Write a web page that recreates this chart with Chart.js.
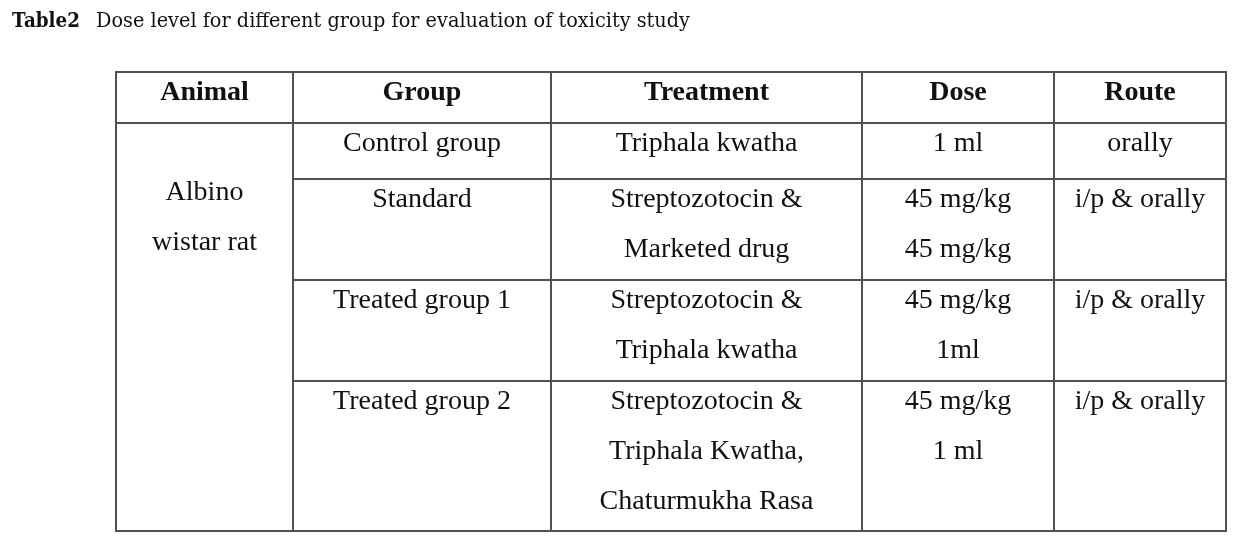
<!DOCTYPE html>
<html>
<head>
<meta charset="utf-8">
<script src="https://cdn.jsdelivr.net/npm/chart.js@4.4.1/dist/chart.umd.min.js"></script>
<style>
html,body{margin:0;padding:0;background:#fff;}
#wrap{width:1247px;height:552px;}
</style>
</head>
<body>
<div id="wrap"><canvas id="c" width="1247" height="552"></canvas></div>
<script>
// ---- table content ----
const titleLabel = 'Table2';
const titleText = 'Dose level for different group for evaluation of toxicity study';
const columns = ['Animal', 'Group', 'Treatment', 'Dose', 'Route'];
const animal = ['Albino', 'wistar rat'];
const groups = [['Control group'], ['Standard'], ['Treated group 1'], ['Treated group 2']];
const treatments = [
  ['Triphala kwatha'],
  ['Streptozotocin &', 'Marketed drug'],
  ['Streptozotocin &', 'Triphala kwatha'],
  ['Streptozotocin &', 'Triphala Kwatha,', 'Chaturmukha Rasa']
];
const doses = [['1 ml'], ['45 mg/kg', '45 mg/kg'], ['45 mg/kg', '1ml'], ['45 mg/kg', '1 ml']];
const routes = [['orally'], ['i/p & orally'], ['i/p & orally'], ['i/p & orally']];

// ---- layout (scale units = page pixels) ----
const colEdges = [116, 293, 551, 862, 1054, 1226];
const rowEdges = [72, 123, 179, 280, 381, 531];
const firstBaseline = 28;
const lineStep = 50;
const animalBaseline = 200;
const lineColor = '#505050';
const font = '"Liberation Serif", "Times New Roman", serif';
const titleFont = '"DejaVu Serif", serif';
const titleLabelSpan = [12, 80];
const titleTextSpan = [96, 690];
const titleBaseline = 27;

// grid segments built from edges
const segments = [];
[rowEdges[0], rowEdges[1], rowEdges[rowEdges.length - 1]].forEach(y => {
  segments.push([{x: colEdges[0], y}, {x: colEdges[colEdges.length - 1], y}]);
});
for (let r = 2; r < rowEdges.length - 1; r++) {
  segments.push([{x: colEdges[1], y: rowEdges[r]}, {x: colEdges[colEdges.length - 1], y: rowEdges[r]}]);
}
colEdges.forEach(x => {
  segments.push([{x, y: rowEdges[0]}, {x, y: rowEdges[rowEdges.length - 1]}]);
});

const datasets = segments.map(seg => ({
  type: 'line',
  data: seg,
  borderColor: lineColor,
  borderWidth: 2,
  pointRadius: 0,
  fill: false,
  tension: 0
}));

function fitText(ctx, text, x0, x1, y) {
  const w = ctx.measureText(text).width;
  const s = (x1 - x0) / w;
  ctx.save();
  ctx.translate(x0, y);
  ctx.scale(s, 1);
  ctx.textAlign = 'left';
  ctx.fillText(text, 0, 0);
  ctx.restore();
}

const tablePlugin = {
  id: 'tableText',
  afterDraw(chart) {
    const ctx = chart.ctx;
    const xs = chart.scales.x, ys = chart.scales.y;
    const px = v => xs.getPixelForValue(v);
    const py = v => ys.getPixelForValue(v);
    const colCenter = i => (px(colEdges[i]) + px(colEdges[i + 1])) / 2;
    ctx.save();
    ctx.fillStyle = '#111';
    ctx.textBaseline = 'alphabetic';

    // title
    ctx.font = 'bold 19.5px ' + titleFont;
    fitText(ctx, titleLabel, px(titleLabelSpan[0]), px(titleLabelSpan[1]), py(titleBaseline));
    ctx.font = '19.5px ' + titleFont;
    fitText(ctx, titleText, px(titleTextSpan[0]), px(titleTextSpan[1]), py(titleBaseline));

    // header
    ctx.textAlign = 'center';
    ctx.font = 'bold 28px ' + font;
    columns.forEach((c, i) => ctx.fillText(c, colCenter(i), py(rowEdges[0] + firstBaseline)));

    // body
    ctx.font = '28px ' + font;
    animal.forEach((t, k) => ctx.fillText(t, colCenter(0), py(animalBaseline + k * lineStep)));
    const cols = [groups, treatments, doses, routes];
    cols.forEach((col, ci) => {
      col.forEach((lines, r) => {
        lines.forEach((t, k) => {
          ctx.fillText(t, colCenter(ci + 1), py(rowEdges[r + 1] + firstBaseline + k * lineStep));
        });
      });
    });
    ctx.restore();
  }
};

new Chart(document.getElementById('c'), {
  type: 'scatter',
  data: {datasets},
  options: {
    responsive: false,
    animation: false,
    devicePixelRatio: 1,
    layout: {padding: 0},
    plugins: {legend: {display: false}, tooltip: {enabled: false}, title: {display: false}},
    scales: {
      x: {type: 'linear', min: 0, max: 1247, display: false},
      y: {type: 'linear', min: 0, max: 552, reverse: true, display: false}
    },
    elements: {line: {borderCapStyle: 'square'}}
  },
  plugins: [tablePlugin]
});
</script>
</body>
</html>
